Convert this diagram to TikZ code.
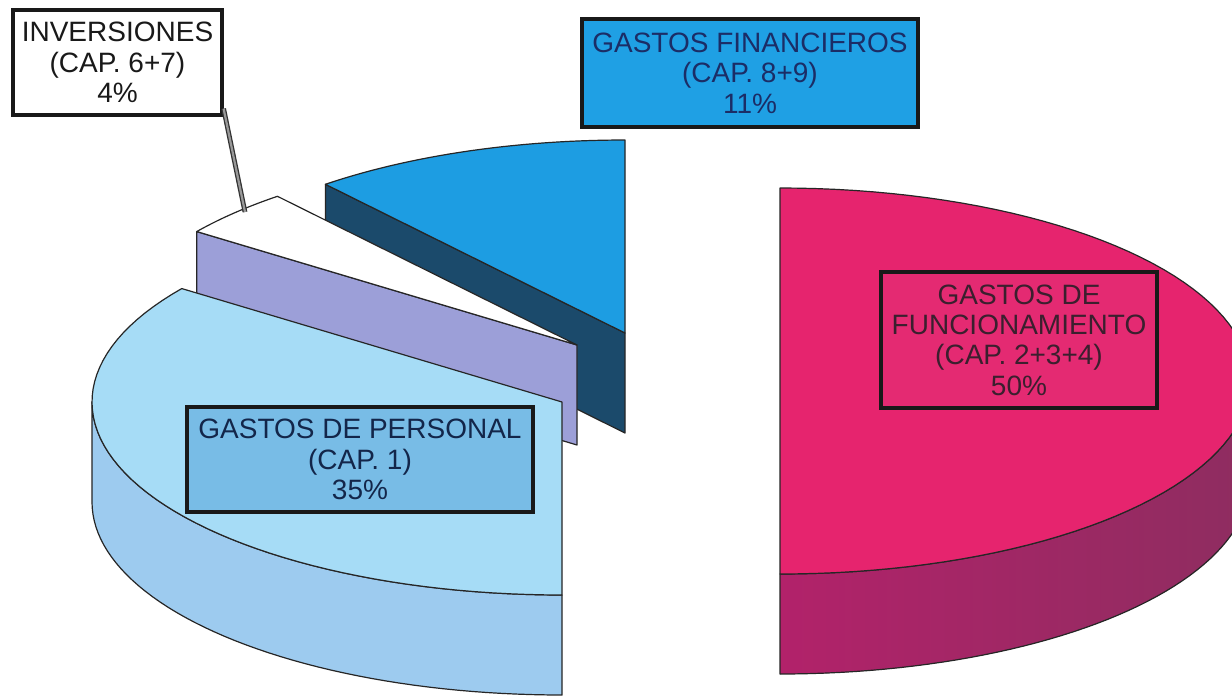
\documentclass[tikz,border=0pt]{standalone}
\usepackage{fontspec}
\setmainfont{Liberation Sans}
\definecolor{fintop}{HTML}{1D9DE2}
\definecolor{finbox}{HTML}{1FA0E4}
\definecolor{finside}{HTML}{1B4A6B}
\definecolor{invside}{HTML}{9C9FD8}
\definecolor{perstop}{HTML}{A6DCF6}
\definecolor{persside}{HTML}{9DCBEF}
\definecolor{persbox}{HTML}{78BCE6}
\definecolor{pinktop}{HTML}{E6246E}
\definecolor{pinkbox}{HTML}{E42A72}
\definecolor{pinksideA}{HTML}{B2226A}
\definecolor{pinksideB}{HTML}{8E2D60}
\definecolor{perstext}{HTML}{13264A}
\definecolor{fintext}{HTML}{1B2D66}
\definecolor{pinktext}{HTML}{3B1F2E}
\begin{document}
\begin{tikzpicture}[x=0.5pt,y=-0.5pt,
  edge/.style={draw=black!85, line width=0.6pt, line join=round},
  lbl/.style={draw=black!90, line width=1.6pt, rectangle, inner sep=0pt, align=center,
    font=\fontsize{14}{15.2}\selectfont},
]
\clip (0,0) rectangle (1232,696);
\fill[white] (0,0) rectangle (1232,696);

% ---- Gastos financieros (11%)
\filldraw[edge, fill=finside] (625,333) -- (325.4,184.3) -- (325.4,284.3) -- (625,433) -- cycle;
\filldraw[edge, fill=fintop] (625,333) -- plot[domain=320.4:360, samples=30, variable=\t]
  ({625+470*sin(\t)},{333-193*cos(\t)}) -- cycle;

% ---- Inversiones (4%)
\filldraw[edge, fill=invside] (577,345) -- (196.8,231.6) -- (196.8,331.6) -- (577,445) -- cycle;
\filldraw[edge, fill=white] (577,345) -- plot[domain=306:320.4, samples=15, variable=\t]
  ({577+470*sin(\t)},{345-193*cos(\t)}) -- cycle;

% ---- Gastos de personal (35%)
\filldraw[edge, fill=persside] plot[domain=180:270, samples=50, variable=\t]
  ({562+470*sin(\t)},{402-193*cos(\t)}) -- plot[domain=270:180, samples=50, variable=\t]
  ({562+470*sin(\t)},{502-193*cos(\t)}) -- cycle;
\filldraw[edge, fill=perstop] (562,402) -- plot[domain=180:306, samples=60, variable=\t]
  ({562+470*sin(\t)},{402-193*cos(\t)}) -- cycle;

% ---- Gastos de funcionamiento (50%)
\filldraw[edge, left color=pinksideA, right color=pinksideB] plot[domain=90:180, samples=50, variable=\t]
  ({780+470*sin(\t)},{381-193*cos(\t)}) -- plot[domain=180:90, samples=50, variable=\t]
  ({780+470*sin(\t)},{481-193*cos(\t)}) -- cycle;
\filldraw[edge, fill=pinktop] (780,381) -- plot[domain=0:180, samples=80, variable=\t]
  ({780+470*sin(\t)},{381-193*cos(\t)}) -- cycle;

% ---- Labels
\node[lbl, fill=white, text=black!90, minimum width=104.5pt, minimum height=52.5pt]
  (lblinv) at (117.5,62.5) {INVERSIONES\\(CAP. 6+7)\\4\%};
\node[lbl, fill=finbox, text=fintext, minimum width=168pt, minimum height=54pt]
  (lblfin) at (750,73) {GASTOS FINANCIEROS\\(CAP. 8+9)\\11\%};
\node[lbl, fill=pinkbox, text=pinktext, minimum width=138pt, minimum height=68pt]
  (lblpink) at (1019,340) {GASTOS DE\\FUNCIONAMIENTO\\(CAP. 2+3+4)\\50\%};
\node[lbl, fill=persbox, text=perstext, minimum width=173pt, minimum height=52.5pt]
  (lblpers) at (360,459.5) {GASTOS DE PERSONAL\\(CAP. 1)\\35\%};

% ---- Leader line
\coordinate (invtip) at (245,212);
\draw[line width=2.4pt, black!80] ([yshift=4pt]lblinv.south east) -- (invtip);
\draw[line width=1.1pt, black!40] ([yshift=4pt]lblinv.south east) -- (invtip);
\end{tikzpicture}
\end{document}
